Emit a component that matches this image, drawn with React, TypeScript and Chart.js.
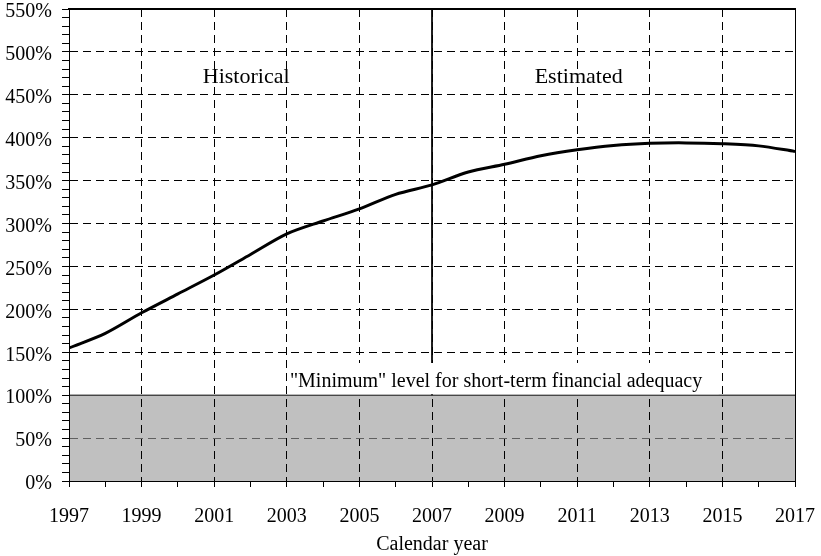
import React, { useEffect, useRef } from "react";
import { Chart, registerables } from "chart.js";

Chart.register(...registerables);

// ---- data ----
const years = [1997, 1998, 1999, 2000, 2001, 2002, 2003, 2004, 2005, 2006, 2007, 2008, 2009, 2010, 2011, 2012, 2013, 2014, 2015, 2016, 2017];
const reserveRatioPct = [155, 172, 196, 218, 240, 264, 288, 303, 317, 334, 345, 360, 369, 379, 386, 391, 393.5, 394, 393, 390.5, 384];
const minimumLevelPct = 100;
const minimumLevelLabel = '"Minimum" level for short-term financial adequacy';
const boundaryYear = 2007;
const regionLabels = ["Historical", "Estimated"];
const regionLabelYears = [2001.88, 2011.04];
const regionLabelLevel = 464;
const minLabelYearRange = [2003.03, 2014.9];
const minLabelLevelTop = 137.5;
const minLabelBaseline = 110;
const yearMin = 1997;
const yearMax = 2017;
const pctMax = 550;
const xAxisTitle = "Calendar year";

const FONT = "'Liberation Serif', 'Times New Roman', serif";

const annotationPlugin = {
  id: "annotations",
  afterDatasetsDraw(chart: any) {
    const { ctx, scales } = chart;
    const x = scales.x;
    const y = scales.y;
    ctx.save();
    const l = x.getPixelForValue(minLabelYearRange[0]);
    const r = x.getPixelForValue(minLabelYearRange[1]);
    const t = y.getPixelForValue(minLabelLevelTop);
    const b = y.getPixelForValue(minimumLevelPct);
    ctx.fillStyle = "#ffffff";
    ctx.fillRect(l, t, r - l, b - t - 1);
    ctx.fillStyle = "#000";
    ctx.font = `20px ${FONT}`;
    ctx.textAlign = "left";
    ctx.textBaseline = "alphabetic";
    ctx.fillText(minimumLevelLabel, l + 2, y.getPixelForValue(minLabelBaseline));
    ctx.font = `22px ${FONT}`;
    ctx.textAlign = "center";
    regionLabels.forEach((txt, i) => {
      ctx.fillText(txt, x.getPixelForValue(regionLabelYears[i]), y.getPixelForValue(regionLabelLevel));
    });
    ctx.restore();
  },
};

const zeroPad = (s: any) => {
  s.paddingTop = 0;
  s.paddingBottom = 0;
  s.paddingLeft = 0;
  s.paddingRight = 0;
};

export default function App() {
  const canvasRef = useRef<HTMLCanvasElement | null>(null);

  useEffect(() => {
    if (!canvasRef.current) return;
    const tickFont = { family: FONT, size: 20 };
    const chart = new Chart(canvasRef.current, {
      type: "line",
      data: {
        datasets: [
          {
            label: "Reserve ratio",
            data: years.map((yr, i) => ({ x: yr, y: reserveRatioPct[i] })),
            borderColor: "#000",
            borderWidth: 3,
            pointRadius: 0,
            tension: 0.3,
            fill: false,
          },
          {
            label: "Boundary",
            data: [
              { x: boundaryYear, y: pctMax },
              { x: boundaryYear, y: minimumLevelPct },
            ],
            borderColor: "#000",
            borderWidth: 1,
            pointRadius: 0,
            fill: false,
          },
          {
            label: "Minimum",
            data: [
              { x: yearMin, y: minimumLevelPct },
              { x: yearMax, y: minimumLevelPct },
            ],
            borderColor: "#000",
            borderWidth: 1,
            pointRadius: 0,
            fill: "origin",
            backgroundColor: "rgba(0,0,0,0.247)",
          },
        ],
      },
      options: {
        animation: false,
        responsive: false,
        maintainAspectRatio: false,
        layout: { padding: { top: 9, right: 26, left: 0, bottom: 0 } },
        plugins: { legend: { display: false }, tooltip: { enabled: false } },
        scales: {
          x: {
            type: "linear",
            position: "bottom",
            min: yearMin,
            max: yearMax,
            afterFit: (s: any) => {
              s.height = 75;
              zeroPad(s);
            },
            ticks: {
              stepSize: 1,
              autoSkip: false,
              maxRotation: 0,
              padding: 18,
              color: "#000",
              font: tickFont,
              callback: (v: any) => (Number(v) % 2 === 1 ? String(v) : ""),
            },
            grid: {
              color: (c: any) =>
                c.tick && c.tick.value % 2 === 1 && c.tick.value !== yearMin && c.tick.value !== yearMax
                  ? "#000"
                  : "transparent",
              tickColor: "#000",
              tickLength: 6,
              lineWidth: 1,
            },
            border: { display: true, color: "#000", width: 1, dash: [8, 5] },
            title: {
              display: true,
              text: xAxisTitle,
              color: "#000",
              font: tickFont,
              padding: { top: 0, bottom: -1 },
            },
          },
          xTop: {
            type: "linear",
            position: "top",
            min: yearMin,
            max: yearMax,
            afterFit: (s: any) => {
              s.height = 0;
              zeroPad(s);
            },
            ticks: { display: false },
            grid: { display: false, drawTicks: false },
            border: { display: true, color: "#000", width: 2 },
          },
          y: {
            type: "linear",
            position: "left",
            min: 0,
            max: pctMax,
            afterFit: (s: any) => {
              s.width = 69;
              zeroPad(s);
            },
            ticks: {
              stepSize: 10,
              autoSkip: false,
              padding: 10,
              labelOffset: 3,
              color: "#000",
              font: tickFont,
              callback: (v: any) => (Number(v) % 50 === 0 ? `${v}%` : ""),
            },
            grid: {
              color: (c: any) => {
                if (!c.tick) return "transparent";
                const v = c.tick.value;
                if (v % 50 !== 0 || v === 0 || v === minimumLevelPct || v === pctMax) return "transparent";
                return v < minimumLevelPct ? "#808080" : "#000";
              },
              tickColor: "#000",
              tickLength: 7,
              lineWidth: 1,
            },
            border: { display: true, color: "#000", width: 1, dash: [8, 5] },
          },
          yRight: {
            type: "linear",
            position: "right",
            min: 0,
            max: pctMax,
            afterFit: (s: any) => {
              s.width = 0;
              zeroPad(s);
            },
            ticks: { display: false },
            grid: { display: false, drawTicks: false },
            border: { display: true, color: "#000", width: 1 },
          },
        },
      },
      plugins: [annotationPlugin],
    } as any);
    return () => chart.destroy();
  }, []);

  return (
    <div style={{ position: "absolute", left: 0, top: 0, width: 821, height: 556, background: "#fff" }}>
      <canvas ref={canvasRef} width={821} height={556} style={{ display: "block" }} />
    </div>
  );
}
